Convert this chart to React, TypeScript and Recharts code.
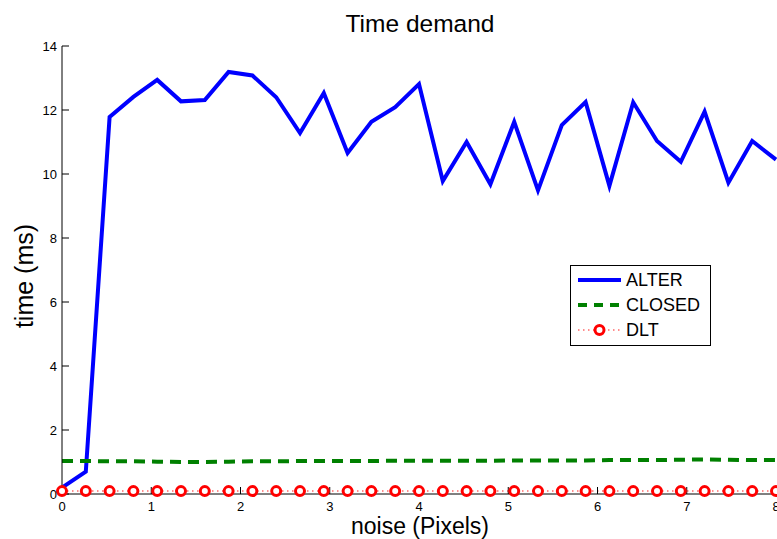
import React from 'react';
import { LineChart, Line, XAxis, YAxis, Legend } from 'recharts';

// noise level (pixels), 31 samples from 0 to 8
const noise = [
  0, 0.2667, 0.5333, 0.8, 1.0667, 1.3333, 1.6, 1.8667, 2.1333, 2.4, 2.6667,
  2.9333, 3.2, 3.4667, 3.7333, 4.0, 4.2667, 4.5333, 4.8, 5.0667, 5.3333,
  5.6, 5.8667, 6.1333, 6.4, 6.6667, 6.9333, 7.2, 7.4667, 7.7333, 8.0,
];

const alter = [
  0.2, 0.7, 11.78, 12.41, 12.94, 12.27, 12.31, 13.19, 13.08, 12.4, 11.28,
  12.53, 10.66, 11.63, 12.09, 12.81, 9.78, 11.0, 9.68, 11.63, 9.49,
  11.53, 12.25, 9.63, 12.24, 11.03, 10.38, 11.95, 9.73, 11.03, 10.45,
];

const closed = [
  1.03, 1.03, 1.02, 1.02, 1.01, 1.0, 1.0, 1.01, 1.02, 1.02, 1.03,
  1.03, 1.03, 1.03, 1.04, 1.04, 1.04, 1.04, 1.04, 1.05, 1.05,
  1.05, 1.05, 1.06, 1.06, 1.06, 1.07, 1.08, 1.07, 1.06, 1.06,
];

const dlt = [
  0.09, 0.09, 0.09, 0.09, 0.09, 0.09, 0.09, 0.09, 0.09, 0.09, 0.09,
  0.09, 0.09, 0.09, 0.09, 0.09, 0.09, 0.09, 0.09, 0.09, 0.09,
  0.09, 0.09, 0.09, 0.09, 0.09, 0.09, 0.09, 0.09, 0.09, 0.09,
];

const xTicks = [0, 1, 2, 3, 4, 5, 6, 7, 8];
const yTicks = [0, 2, 4, 6, 8, 10, 12, 14];

const data = noise.map((n, i) => ({
  noise: n,
  ALTER: alter[i],
  CLOSED: closed[i],
  DLT: dlt[i],
}));

const FONT = '"Liberation Sans", Arial, Helvetica, sans-serif';

const RedCircle = (props: any) => {
  const { cx, cy, index } = props;
  if (cx == null || cy == null) return <g key={index} />;
  return (
    <circle key={index} cx={cx} cy={cy} r={4.5} fill="#fff" stroke="#ff0000" strokeWidth={3} />
  );
};

const LegendBox = () => (
  <svg width={141} height={81} style={{ display: 'block' }}>
    <rect x={0.5} y={0.5} width={140} height={80} fill="#fff" stroke="#000" strokeWidth={1} />
    <line x1={8} x2={51} y1={15} y2={15} stroke="#0000ff" strokeWidth={4} />
    <text x={56} y={15} dominantBaseline="central" fontSize={18} fill="#000" fontFamily={FONT}>ALTER</text>
    <line x1={8} x2={51} y1={40} y2={40} stroke="#008000" strokeWidth={4} strokeDasharray="9 7" />
    <text x={56} y={40} dominantBaseline="central" fontSize={18} fill="#000" fontFamily={FONT}>CLOSED</text>
    <line x1={8} x2={51} y1={65} y2={65} stroke="#ff0000" strokeOpacity={0.6} strokeWidth={1.5} strokeDasharray="1.5 3.5" />
    <circle cx={29.5} cy={65} r={4.5} fill="#fff" stroke="#ff0000" strokeWidth={3} />
    <text x={56} y={65} dominantBaseline="central" fontSize={18} fill="#000" fontFamily={FONT}>DLT</text>
  </svg>
);

export default function App() {
  return (
    <div
      style={{
        position: 'absolute',
        left: 0,
        top: 0,
        width: 777,
        height: 539,
        overflow: 'hidden',
        background: '#fff',
        fontFamily: FONT,
      }}
    >
      <LineChart
        width={800}
        height={539}
        data={data}
        margin={{ top: 46, right: 24, bottom: 15, left: 22 }}
      >
        <XAxis
          xAxisId="b"
          dataKey="noise"
          type="number"
          domain={[0, 8]}
          ticks={xTicks}
          height={30}
          stroke="#000"
          tickSize={-7}
          tickMargin={15}
          tick={{ fill: '#000', fontSize: 13 }}
        />
        <XAxis
          xAxisId="t"
          orientation="top"
          type="number"
          domain={[0, 8]}
          ticks={xTicks}
          height={0}
          stroke="#000"
          tickSize={-7}
          tick={false}
        />
        <YAxis
          yAxisId="l"
          type="number"
          domain={[0, 14]}
          ticks={yTicks}
          width={40}
          stroke="#000"
          tickSize={-7}
          tickMargin={12}
          tick={{ fill: '#000', fontSize: 13 }}
        />
        <YAxis
          yAxisId="r"
          orientation="right"
          type="number"
          domain={[0, 14]}
          ticks={yTicks}
          width={0}
          stroke="#000"
          tickSize={-7}
          tick={false}
        />
        <Legend
          layout="horizontal"
          verticalAlign="middle"
          align="center"
          wrapperStyle={{ left: 570, top: 265, width: 141, height: 81 }}
          content={() => <LegendBox />}
        />
        <Line
          xAxisId="b"
          yAxisId="l"
          dataKey="ALTER"
          stroke="#0000ff"
          strokeWidth={4}
          dot={false}
          isAnimationActive={false}
        />
        <Line
          xAxisId="b"
          yAxisId="l"
          dataKey="CLOSED"
          stroke="#008000"
          strokeWidth={4}
          strokeDasharray="11 7"
          dot={false}
          isAnimationActive={false}
        />
        <Line
          xAxisId="b"
          yAxisId="l"
          dataKey="DLT"
          stroke="#ff0000"
          strokeOpacity={0.6}
          strokeWidth={1.5}
          strokeDasharray="1.5 3.5"
          dot={RedCircle}
          isAnimationActive={false}
        />
      </LineChart>
      <svg
        width={777}
        height={539}
        style={{ position: 'absolute', left: 0, top: 0, pointerEvents: 'none' }}
      >
        <text x={420} y={32} textAnchor="middle" fontSize={24.5} fill="#000" fontFamily={FONT}>
          Time demand
        </text>
        <text x={420} y={534} textAnchor="middle" fontSize={23} fill="#000" fontFamily={FONT}>
          noise (Pixels)
        </text>
        <text
          x={0}
          y={0}
          transform="translate(33,276) rotate(-90)"
          textAnchor="middle"
          fontSize={25}
          fill="#000"
          fontFamily={FONT}
        >
          time (ms)
        </text>
      </svg>
    </div>
  );
}
